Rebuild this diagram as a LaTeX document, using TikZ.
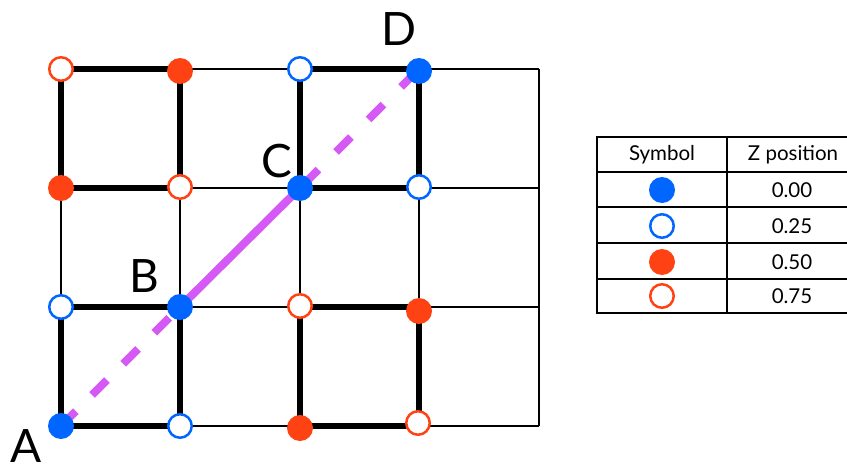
\documentclass[tikz,border=0pt]{standalone}
\usepackage{fontspec}
\setmainfont{Lato}
\definecolor{zblue}{RGB}{0,102,255}
\definecolor{zred}{RGB}{255,66,20}
\definecolor{zpurple}{RGB}{213,89,245}
\begin{document}
\begin{tikzpicture}[x=1pt,y=-1pt,
  thinrule/.style={line width=2.2pt,black},
  boldrule/.style={line width=6pt,black,line cap=rect},
  fillpt/.style={circle,inner sep=0pt,minimum size=26pt,fill=#1},
  openpt/.style={circle,inner sep=0pt,minimum size=23.5pt,draw=#1,line width=2.5pt,fill=white},
  diag/.style={zpurple,line width=8pt},
  lbl/.style={font=\fontsize{46}{46}\selectfont,inner sep=0pt},
  cell/.style={font=\fontsize{20.5}{20.5}\selectfont,inner sep=0pt},
  tabrule/.style={line width=2.2pt,black}]
\useasboundingbox (0,0) rectangle (847,466);
\clip (0,0) rectangle (847,466);
\fill[white] (0,0) rectangle (847,466);

% grid coordinates
\foreach \i/\x in {0/61,1/180,2/300,3/419,4/539}
  \foreach \j/\y in {0/69,1/188,2/307,3/426}
    \coordinate (g\i\j) at (\x,\y);

% thin grid
\foreach \j in {0,1,2,3} \draw[thinrule] (g0\j) -- (g4\j);
\foreach \i in {0,1,2,3,4} \draw[thinrule] (g\i0) -- (g\i3);

% bold squares
\draw[boldrule] (g00) rectangle (g11);
\draw[boldrule] (g20) rectangle (g31);
\draw[boldrule] (g02) rectangle (g13);
\draw[boldrule] (g22) rectangle (g33);

% purple diagonal
\draw[diag,dash pattern=on 21pt off 23pt] (g03) -- (g12);
\draw[diag] (g12) -- (g21);
\draw[diag,dash pattern=on 21pt off 25pt,dash phase=41pt] (g21) -- (g30);

% points
\node[openpt=zred]  (p00) at (61,69) {};
\node[fillpt=zred]  (p10) at (180,71) {};
\node[openpt=zblue] (p20) at (300,69) {};
\node[fillpt=zblue] (p30) at (419,71) {};

\node[fillpt=zred]  (p01) at (61,188) {};
\node[openpt=zred]  (p11) at (180,187) {};
\node[fillpt=zblue] (p21) at (300,188) {};
\node[openpt=zblue] (p31) at (419,187) {};

\node[openpt=zblue] (p02) at (61,307) {};
\node[fillpt=zblue] (p12) at (180,307) {};
\node[openpt=zred]  (p22) at (300,306) {};
\node[fillpt=zred]  (p32) at (419,311) {};

\node[fillpt=zblue] (p03) at (61,426) {};
\node[openpt=zblue] (p13) at (180,426) {};
\node[fillpt=zred]  (p23) at (300,428) {};
\node[openpt=zred]  (p33) at (418,423) {};

% labels
\node[lbl] (labA) at (26,446) {A};
\node[lbl] (labB) at (144,276) {B};
\node[lbl] (labC) at (277,161) {C};
\node[lbl] (labD) at (399,29) {D};

% table
\draw[tabrule] (850,137) -- (597,137) -- (597,313) -- (850,313);
\draw[tabrule] (727,137) -- (727,313);
\foreach \y in {172,207,243,279} \draw[tabrule] (597,\y) -- (850,\y);

\node[cell] (hsym) at (662,155) {Symbol};
\node[cell] (hz)   at (793,155) {Z position};
\node[fillpt=zblue] (s1) at (662,190) {};
\node[openpt=zblue] (s2) at (662,226) {};
\node[fillpt=zred]  (s3) at (662,262) {};
\node[openpt=zred]  (s4) at (662,296) {};
\node[cell] (v1) at (792,190) {0.00};
\node[cell] (v2) at (792,226) {0.25};
\node[cell] (v3) at (792,262) {0.50};
\node[cell] (v4) at (792,296) {0.75};
\end{tikzpicture}
\end{document}
